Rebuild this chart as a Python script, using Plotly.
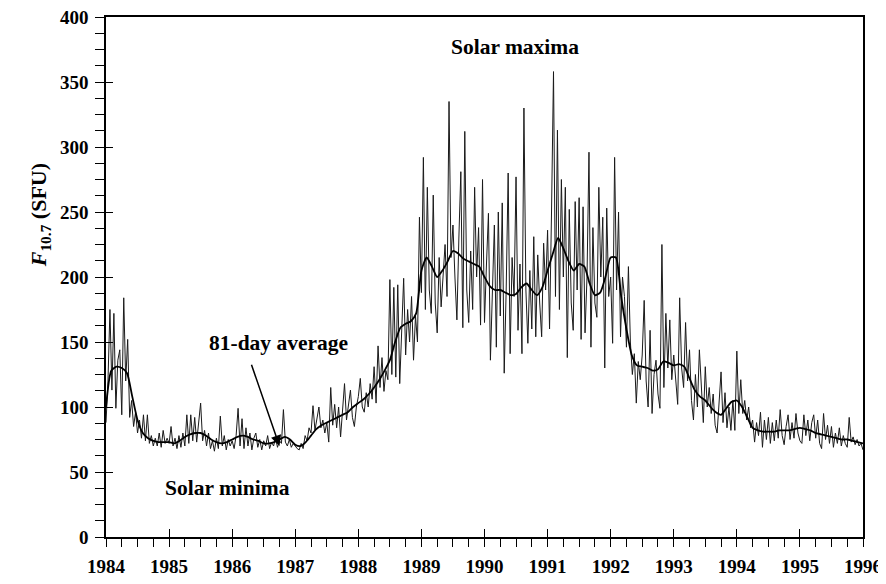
import plotly.graph_objects as go

# ---------------- data ----------------
# daily F10.7 samples, 32 per year (t = year + k/32)
daily_1984 = [88, 120, 175, 113, 172, 99, 136, 144, 94, 184, 120, 152, 92, 105, 85, 96,
              80, 90, 76, 94, 74, 94, 72, 78, 70, 76, 70, 80, 69, 82, 72, 76]
daily_1985 = [72, 85, 70, 76, 68, 78, 69, 80, 70, 94, 72, 94, 74, 92, 73, 88,
              103, 74, 82, 70, 80, 68, 74, 66, 76, 68, 93, 70, 78, 67, 75, 70]
daily_1986 = [74, 68, 78, 99, 70, 91, 68, 84, 70, 80, 67, 76, 80, 69, 75, 67,
              74, 70, 78, 68, 73, 70, 76, 69, 74, 72, 98, 73, 70, 75, 69, 72]
daily_1987 = [70, 68, 67, 72, 68, 78, 74, 84, 80, 101, 82, 92, 100, 84, 90, 80,
              88, 73, 115, 86, 102, 84, 100, 77, 95, 118, 90, 102, 113, 92, 85, 100]
daily_1988 = [108, 122, 100, 96, 111, 100, 118, 106, 131, 103, 147, 115, 138, 112, 128, 121,
              198, 125, 192, 123, 194, 118, 165, 199, 140, 175, 150, 185, 136, 170, 150, 246]
daily_1989 = [188, 292, 175, 269, 190, 172, 263, 180, 157, 215, 177, 205, 225, 185, 335, 215,
              240, 200, 167, 230, 281, 161, 312, 190, 165, 220, 175, 269, 200, 238, 163, 275]
daily_1990 = [165, 210, 249, 136, 200, 240, 146, 250, 170, 257, 126, 190, 280, 141, 215, 185,
              277, 159, 210, 141, 330, 190, 149, 205, 160, 231, 154, 217, 180, 154, 226, 190]
daily_1991 = [236, 160, 250, 358, 185, 313, 175, 275, 200, 269, 138, 252, 180, 159, 258, 190,
              261, 152, 254, 157, 200, 296, 146, 238, 180, 169, 269, 200, 246, 130, 253, 185]
daily_1992 = [200, 149, 292, 190, 250, 154, 200, 185, 146, 208, 150, 125, 141, 103, 135, 121,
              140, 182, 120, 100, 159, 95, 125, 136, 110, 99, 225, 115, 172, 130, 167, 121]
daily_1993 = [140, 121, 102, 184, 130, 115, 165, 120, 144, 105, 90, 125, 100, 144, 110, 88,
              131, 100, 115, 95, 110, 86, 80, 100, 127, 88, 111, 84, 100, 82, 105, 82]
daily_1994 = [143, 95, 121, 95, 105, 90, 100, 84, 90, 73, 88, 78, 96, 69, 90, 75,
              92, 72, 88, 74, 90, 76, 98, 78, 71, 85, 94, 75, 88, 76, 95, 80]
daily_1995 = [74, 72, 94, 78, 90, 74, 88, 94, 76, 90, 72, 68, 95, 75, 86, 72,
              85, 69, 80, 72, 84, 70, 78, 72, 69, 92, 73, 77, 71, 75, 70, 72]
daily_1996_start = 67

# 81-day average, monthly samples from 1984.0 to 1996.0
avg_81day = [100, 128, 131, 130, 126, 108, 90, 80, 76, 74, 73, 73,
             73, 72, 74, 77, 79, 80, 80, 78, 75, 73, 72, 73,
             75, 77, 78, 77, 75, 74, 72, 72, 73, 75, 77, 75,
             71, 70, 73, 78, 83, 86, 88, 90, 92, 94, 96, 100,
             103, 106, 110, 115, 121, 128, 136, 150, 161, 164, 166, 172,
             205, 215, 208, 200, 205, 212, 220, 218, 214, 212, 210, 208,
             200, 193, 190, 190, 188, 186, 187, 192, 195, 190, 186, 192,
             205, 218, 230, 222, 212, 205, 210, 208, 195, 186, 188, 200,
             215, 215, 185, 160, 140, 132, 131, 130, 128, 129, 135, 134,
             132, 133, 131, 122, 113, 108, 105, 100, 96, 94, 99, 104,
             105, 100, 92, 84, 82, 81, 81, 81, 82, 82, 82, 83,
             84, 83, 82, 80, 79, 78, 77, 76, 75, 75, 74, 73,
             72]

year_ticks = list(range(1984, 1997))
flux_ticks = list(range(0, 401, 50))

# ---------------- assemble series ----------------
daily_by_year = [daily_1984, daily_1985, daily_1986, daily_1987, daily_1988, daily_1989,
                 daily_1990, daily_1991, daily_1992, daily_1993, daily_1994, daily_1995]
t_daily, f_daily = [], []
for i, vals in enumerate(daily_by_year):
    yr = 1984 + i
    for k, v in enumerate(vals):
        t_daily.append(yr + k / 32.0)
        f_daily.append(v)
t_daily.append(1996.0)
f_daily.append(daily_1996_start)

t_avg = [1984 + i / 12.0 for i in range(len(avg_81day))]

SERIF = "Liberation Serif, Times New Roman, serif"

fig = go.Figure()
fig.add_trace(go.Scatter(x=t_daily, y=f_daily, mode="lines",
                         line=dict(color="#1a1a1a", width=1), hoverinfo="skip"))
fig.add_trace(go.Scatter(x=t_avg, y=avg_81day, mode="lines", line_shape="spline",
                         line=dict(color="black", width=1.8, smoothing=0.6), hoverinfo="skip"))
# invisible trace for the inside-tick overlay axes
fig.add_trace(go.Scatter(x=[1984, 1996], y=[0, 400], xaxis="x2", yaxis="y2",
                         mode="markers", marker=dict(opacity=0), hoverinfo="skip"))

tickfont = dict(family=SERIF, size=19, color="black", weight="bold")

# the page body adds an 8px offset; the figure is sized to fit the window
fig.update_layout(
    width=878, height=576,
    margin=dict(l=98, r=23, t=9, b=47, autoexpand=False),
    plot_bgcolor="white", paper_bgcolor="white",
    showlegend=False,
    xaxis=dict(range=[1984, 1996], tickmode="array", tickvals=year_ticks,
               ticktext=[str(y) for y in year_ticks], automargin=False,
               ticklabeloverflow="allow",
               ticks="outside", ticklen=8, tickwidth=1.3, tickcolor="black",
               showline=True, linewidth=1.5, linecolor="black", mirror=True,
               showgrid=False, zeroline=False, tickfont=tickfont,
               ticklabelstandoff=3,
               minor=dict(tickmode="linear", tick0=1984, dtick=0.25, ticks="outside",
                          ticklen=8, tickwidth=1, tickcolor="black", showgrid=False)),
    yaxis=dict(range=[0, 400], tickmode="array", tickvals=flux_ticks,
               ticktext=[str(v) for v in flux_ticks], automargin=False,
               ticklabeloverflow="allow",
               ticks="outside", ticklen=9, tickwidth=1.3, tickcolor="black",
               showline=True, linewidth=1.5, linecolor="black", mirror=True,
               showgrid=False, zeroline=False, tickfont=tickfont,
               ticklabelstandoff=3,
               minor=dict(tickmode="linear", tick0=0, dtick=12.5, ticks="outside",
                          ticklen=9, tickwidth=1, tickcolor="black", showgrid=False)),
    xaxis2=dict(range=[1984, 1996], overlaying="x", anchor="y", side="bottom",
                tickmode="array", tickvals=year_ticks, ticks="inside", ticklen=8,
                tickwidth=1.3, tickcolor="black", showticklabels=False, automargin=False,
                showline=False, showgrid=False, zeroline=False),
    yaxis2=dict(range=[0, 400], overlaying="y", anchor="x", side="left",
                tickmode="array", tickvals=flux_ticks, ticks="inside", ticklen=7,
                tickwidth=1.3, tickcolor="black", showticklabels=False, automargin=False,
                showline=False, showgrid=False, zeroline=False),
)

label_font = dict(family=SERIF, size=21.5, color="black", weight="bold")
fig.add_annotation(x=1990.48, y=377, xref="x", yref="y", text="Solar maxima",
                   showarrow=False, font=label_font)
fig.add_annotation(x=1985.92, y=38, xref="x", yref="y", text="Solar minima",
                   showarrow=False, font=label_font)
fig.add_annotation(x=1986.73, y=149, xref="x", yref="y", text="81-day average",
                   showarrow=False, font=label_font)
fig.add_annotation(x=1986.75, y=70, xref="x", yref="y", text=" ",
                   showarrow=True, ax=-31, ay=-90, arrowhead=2, arrowsize=1.4,
                   arrowwidth=1.5, arrowcolor="black", standoff=0)
fig.add_annotation(x=-0.087, y=0.619, xref="paper", yref="paper",
                   xanchor="center", yanchor="middle",
                   text="<i>F</i><sub>10.7</sub> (SFU)", textangle=-90,
                   showarrow=False, font=dict(family=SERIF, size=22, color="black",
                                              weight="bold"))

fig.write_html("out.html")
